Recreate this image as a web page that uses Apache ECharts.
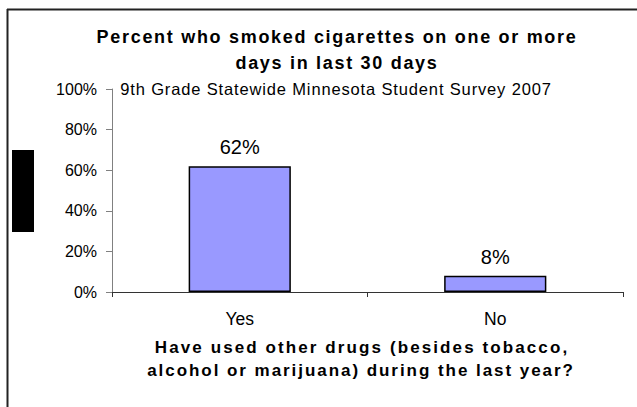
<!DOCTYPE html>
<html>
<head>
<meta charset="utf-8">
<script src="https://cdn.jsdelivr.net/npm/echarts@6/dist/echarts.min.js"></script>
<style>
  html, body { margin: 0; padding: 0; background: #fff; }
  #chart { width: 637px; height: 407px; }
</style>
</head>
<body>
<div id="chart"></div>
<script>
// ---- data ----
const categories = ['Yes', 'No'];
const values = [62, 8];
const yMin = 0, yMax = 100, yStep = 20;
const titleLines = ['Percent who smoked cigarettes on one or more', 'days in last 30 days'];
const subtitle = '9th Grade Statewide Minnesota Student Survey 2007';
const xTitleLines = ['Have used other drugs (besides tobacco,', 'alcohol or marijuana) during the last year?'];

const FONT = '"Liberation Sans", Arial, sans-serif';
const chart = echarts.init(document.getElementById('chart'), null, { renderer: 'svg' });

function txt(text, x, y, size, weight) {
  return {
    type: 'text', x: x, y: y, silent: true,
    style: { text: text, fill: '#000', font: weight + ' ' + size + 'px ' + FONT,
             textAlign: 'center', textVerticalAlign: 'middle' }
  };
}

chart.setOption({
  animation: false,
  backgroundColor: '#fff',
  grid: { left: 112, right: 14, top: 89, bottom: 115, containLabel: false },
  xAxis: {
    type: 'category', data: categories,
    axisLine: { show: true, lineStyle: { color: '#333', width: 1 } },
    axisTick: { show: true, length: 5, alignWithLabel: false, lineStyle: { color: '#333' } },
    axisLabel: { color: '#000', fontSize: 17.5, fontFamily: FONT, margin: 18 },
    splitLine: { show: false }
  },
  yAxis: {
    type: 'value', min: yMin, max: yMax, interval: yStep,
    axisLine: { show: true, lineStyle: { color: '#808080', width: 1 } },
    axisTick: { show: true, length: 6, inside: false, lineStyle: { color: '#808080' } },
    axisLabel: { color: '#000', fontSize: 16, fontFamily: FONT, margin: 15, formatter: '{value}%' },
    splitLine: { show: false }
  },
  series: [{
    type: 'bar', data: values, barWidth: '40%',
    itemStyle: { color: '#9999FF', borderColor: '#000', borderWidth: 1.5 },
    label: { show: true, position: 'top', distance: 9, formatter: '{c}%',
             color: '#000', fontSize: 20, fontFamily: FONT }
  }],
  graphic: [
    { type: 'line', silent: true, shape: { x1: 7, y1: 9.5, x2: 637, y2: 9.5 }, style: { stroke: '#222', lineWidth: 2 } },
    { type: 'line', silent: true, shape: { x1: 7.5, y1: 9, x2: 7.5, y2: 407 }, style: { stroke: '#222', lineWidth: 2 } },
    { type: 'rect', silent: true, shape: { x: 12, y: 150, width: 22, height: 82 }, style: { fill: '#000' } },
    txt(titleLines[0], 337, 37, 18, 'bold'),
    txt(titleLines[1], 337, 63, 18, 'bold'),
    txt(subtitle, 336, 89, 16.5, 'normal'),
    txt(xTitleLines[0], 362, 347, 17, 'bold'),
    txt(xTitleLines[1], 361, 370, 17, 'bold')
  ]
});

// letter spacing to match the original's spaced-out lettering
const spacing = {};
spacing[titleLines[0]] = 1.7;
spacing[titleLines[1]] = 1.7;
spacing[subtitle] = 0.85;
spacing[xTitleLines[0]] = 2.1;
spacing[xTitleLines[1]] = 1.95;
function applySpacing() {
  document.querySelectorAll('#chart text').forEach(function (t) {
    const s = spacing[t.textContent];
    if (s !== undefined) t.style.letterSpacing = s + 'px';
  });
}
applySpacing();
chart.on('finished', applySpacing);
</script>
</body>
</html>
